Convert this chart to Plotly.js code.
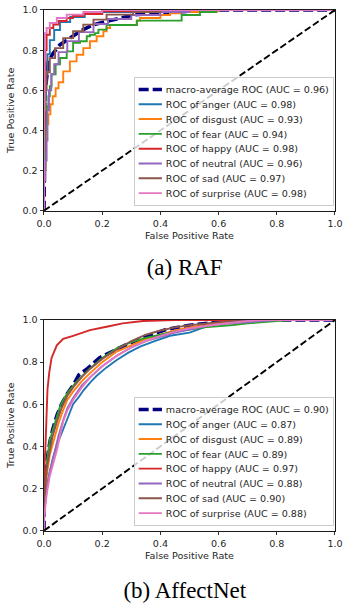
<!DOCTYPE html>
<html>
<head>
<meta charset="utf-8">
<script src="https://cdn.plot.ly/plotly-3.0.1.min.js"></script>
<style>
html,body{margin:0;padding:0;background:#fff;overflow:hidden;width:343px;height:603px}
#wrap{width:343px;height:603px;overflow:hidden;position:relative}
#chart{width:442px;height:777px;transform:scale(0.776018);transform-origin:0 0}
</style>
</head>
<body>
<div id="wrap"><div id="chart"></div></div>
<script>
// ---------- data ----------
const CLASSES = ['anger', 'disgust', 'fear', 'happy', 'neutral', 'sad', 'surprise'];
const COLORS = ['#1f77b4', '#ff7f0e', '#2ca02c', '#d62728', '#9467bd', '#8c564b', '#e377c2'];
const RAF_AUC = [0.98, 0.93, 0.94, 0.98, 0.96, 0.97, 0.98];
const AFF_AUC = [0.87, 0.89, 0.89, 0.97, 0.88, 0.90, 0.88];
const RAF_MACRO_AUC = 0.96;
const AFF_MACRO_AUC = 0.90;
const DIAG_X = [0, 1];
const DIAG_Y = [0, 1];
const CAPTIONS = ['(a) RAF', '(b) AffectNet'];

// RAF
const RAF_MACRO_FPR = [0, 0, 0.003, 0.009, 0.015, 0.032, 0.055, 0.089, 0.124, 0.17, 0.215, 0.306, 0.4, 0.5, 0.6, 1];
const RAF_MACRO_TPR = [0, 0.45, 0.58, 0.66, 0.744, 0.786, 0.827, 0.86, 0.894, 0.927, 0.944, 0.975, 0.987, 0.995, 1, 1];
const RAF_ANGER_FPR = [0, 0, 0.003, 0.007, 0.012, 0.02, 0.035, 0.055, 0.09, 0.14, 0.2, 0.3, 0.45, 1];
const RAF_ANGER_TPR = [0, 0.35, 0.55, 0.68, 0.78, 0.85, 0.9, 0.94, 0.965, 0.98, 0.99, 0.995, 1, 1];
const RAF_DISGUST_FPR = [0, 0, 0.005, 0.009, 0.015, 0.022, 0.03, 0.04, 0.05, 0.066, 0.089, 0.112, 0.135, 0.158, 0.181, 0.204, 0.215, 0.227, 0.319, 0.33, 0.4, 0.433, 0.467, 0.54, 0.6, 1];
const RAF_DISGUST_TPR = [0, 0.2, 0.35, 0.43, 0.48, 0.53, 0.57, 0.61, 0.64, 0.694, 0.744, 0.777, 0.81, 0.844, 0.869, 0.894, 0.91, 0.925, 0.947, 0.96, 0.975, 0.983, 0.99, 0.995, 1, 1];
const RAF_FEAR_FPR = [0, 0, 0.005, 0.01, 0.015, 0.02, 0.026, 0.04, 0.055, 0.078, 0.1, 0.124, 0.147, 0.158, 0.175, 0.187, 0.215, 0.319, 0.473, 0.536, 0.593, 1];
const RAF_FEAR_TPR = [0, 0.2, 0.4, 0.52, 0.57, 0.62, 0.68, 0.73, 0.761, 0.794, 0.836, 0.844, 0.869, 0.877, 0.885, 0.902, 0.925, 0.947, 0.975, 0.99, 1, 1];
const RAF_HAPPY_FPR = [0, 0, 0.002, 0.005, 0.009, 0.02, 0.032, 0.05, 0.078, 0.1, 0.135, 0.2, 0.3, 1];
const RAF_HAPPY_TPR = [0, 0.4, 0.65, 0.8, 0.877, 0.91, 0.927, 0.945, 0.96, 0.97, 0.98, 0.993, 1, 1];
const RAF_NEUTRAL_FPR = [0, 0, 0.005, 0.009, 0.012, 0.017, 0.025, 0.035, 0.05, 0.08, 0.12, 0.17, 0.22, 0.3, 0.4, 0.5, 1];
const RAF_NEUTRAL_TPR = [0, 0.15, 0.25, 0.35, 0.5, 0.6, 0.68, 0.73, 0.79, 0.845, 0.89, 0.93, 0.955, 0.975, 0.99, 1, 1];
const RAF_SAD_FPR = [0, 0, 0.002, 0.005, 0.009, 0.02, 0.038, 0.066, 0.1, 0.135, 0.17, 0.215, 0.306, 0.4, 1];
const RAF_SAD_TPR = [0, 0.3, 0.45, 0.6, 0.69, 0.76, 0.81, 0.86, 0.894, 0.927, 0.952, 0.977, 0.99, 1, 1];
const RAF_SURPRISE_FPR = [0, 0, 0.002, 0.003, 0.009, 0.02, 0.044, 0.078, 0.135, 0.2, 1];
const RAF_SURPRISE_TPR = [0, 0.5, 0.75, 0.885, 0.91, 0.935, 0.96, 0.977, 0.99, 1, 1];

// AffectNet
const AFF_MACRO_FPR = [0, 0, 0.005, 0.01, 0.02, 0.03, 0.045, 0.06, 0.08, 0.1, 0.12, 0.15, 0.19, 0.22, 0.27, 0.33, 0.42, 0.5, 0.6, 0.7, 1];
const AFF_MACRO_TPR = [0, 0.1, 0.25, 0.33, 0.42, 0.48, 0.55, 0.6, 0.65, 0.69, 0.74, 0.77, 0.82, 0.84, 0.875, 0.91, 0.955, 0.975, 0.99, 1, 1];
const AFF_ANGER_FPR = [0, 0, 0.005, 0.015, 0.03, 0.045, 0.06, 0.072, 0.085, 0.1, 0.12, 0.135, 0.16, 0.181, 0.215, 0.25, 0.29, 0.33, 0.38, 0.433, 0.5, 0.55, 0.6, 0.7, 0.75, 1];
const AFF_ANGER_TPR = [0, 0.06, 0.15, 0.25, 0.34, 0.41, 0.46, 0.5, 0.55, 0.6, 0.635, 0.665, 0.705, 0.735, 0.775, 0.81, 0.845, 0.873, 0.9, 0.925, 0.94, 0.965, 0.985, 0.997, 1, 1];
const AFF_DISGUST_FPR = [0, 0, 0.005, 0.01, 0.02, 0.035, 0.05, 0.065, 0.08, 0.1, 0.13, 0.16, 0.2, 0.25, 0.3, 0.35, 0.4, 0.45, 0.5, 0.6, 0.7, 0.8, 1];
const AFF_DISGUST_TPR = [0, 0.1, 0.2, 0.27, 0.36, 0.44, 0.51, 0.57, 0.62, 0.66, 0.71, 0.75, 0.8, 0.85, 0.88, 0.91, 0.93, 0.95, 0.965, 0.985, 0.995, 1, 1];
const AFF_FEAR_FPR = [0, 0, 0.005, 0.01, 0.02, 0.038, 0.055, 0.07, 0.084, 0.112, 0.135, 0.158, 0.2, 0.25, 0.3, 0.35, 0.4, 0.45, 0.5, 0.55, 0.65, 0.7, 0.8, 0.85, 1];
const AFF_FEAR_TPR = [0, 0.12, 0.25, 0.33, 0.43, 0.51, 0.59, 0.63, 0.66, 0.707, 0.74, 0.77, 0.82, 0.865, 0.895, 0.915, 0.93, 0.945, 0.955, 0.965, 0.976, 0.984, 0.995, 1, 1];
const AFF_HAPPY_FPR = [0, 0, 0.002, 0.005, 0.008, 0.012, 0.018, 0.026, 0.044, 0.066, 0.1, 0.158, 0.215, 0.27, 0.34, 0.45, 1];
const AFF_HAPPY_TPR = [0, 0.25, 0.32, 0.4, 0.55, 0.67, 0.75, 0.82, 0.88, 0.91, 0.925, 0.952, 0.968, 0.984, 0.995, 1, 1];
const AFF_NEUTRAL_FPR = [0, 0, 0.005, 0.01, 0.02, 0.035, 0.05, 0.065, 0.08, 0.1, 0.13, 0.16, 0.2, 0.25, 0.3, 0.35, 0.4, 0.45, 0.5, 0.55, 0.6, 0.7, 0.8, 1];
const AFF_NEUTRAL_TPR = [0, 0.06, 0.14, 0.2, 0.28, 0.37, 0.45, 0.52, 0.58, 0.63, 0.69, 0.73, 0.78, 0.83, 0.87, 0.9, 0.92, 0.94, 0.955, 0.97, 0.98, 0.99, 1, 1];
const AFF_SAD_FPR = [0, 0, 0.005, 0.01, 0.02, 0.03, 0.045, 0.06, 0.08, 0.1, 0.13, 0.16, 0.2, 0.25, 0.3, 0.35, 0.4, 0.45, 0.5, 0.6, 0.7, 1];
const AFF_SAD_TPR = [0, 0.1, 0.22, 0.3, 0.38, 0.45, 0.52, 0.58, 0.64, 0.68, 0.73, 0.77, 0.815, 0.86, 0.9, 0.93, 0.95, 0.965, 0.975, 0.99, 1, 1];
const AFF_SURPRISE_FPR = [0, 0, 0.005, 0.01, 0.02, 0.03, 0.044, 0.055, 0.066, 0.08, 0.1, 0.13, 0.16, 0.2, 0.25, 0.3, 0.35, 0.4, 0.45, 0.5, 0.6, 0.7, 0.75, 1];
const AFF_SURPRISE_TPR = [0, 0.05, 0.12, 0.18, 0.26, 0.31, 0.38, 0.45, 0.52, 0.57, 0.62, 0.68, 0.73, 0.78, 0.83, 0.87, 0.9, 0.925, 0.945, 0.96, 0.98, 0.995, 1, 1];

// ---------- build ----------
const K = 442 / 343; // internal scale (page is rendered larger then scaled down)
const RAF_FPR = [RAF_ANGER_FPR, RAF_DISGUST_FPR, RAF_FEAR_FPR, RAF_HAPPY_FPR, RAF_NEUTRAL_FPR, RAF_SAD_FPR, RAF_SURPRISE_FPR];
const RAF_TPR = [RAF_ANGER_TPR, RAF_DISGUST_TPR, RAF_FEAR_TPR, RAF_HAPPY_TPR, RAF_NEUTRAL_TPR, RAF_SAD_TPR, RAF_SURPRISE_TPR];
const AFF_FPR = [AFF_ANGER_FPR, AFF_DISGUST_FPR, AFF_FEAR_FPR, AFF_HAPPY_FPR, AFF_NEUTRAL_FPR, AFF_SAD_FPR, AFF_SURPRISE_FPR];
const AFF_TPR = [AFF_ANGER_TPR, AFF_DISGUST_TPR, AFF_FEAR_TPR, AFF_HAPPY_TPR, AFF_NEUTRAL_TPR, AFF_SAD_TPR, AFF_SURPRISE_TPR];

const LW = 1.9 * K;
function panel(xa, ya, leg, macroF, macroT, macroAuc, fprs, tprs, aucs, shape) {
  const out = [];
  out.push({
    type: 'scatter', mode: 'lines', x: macroF, y: macroT, xaxis: xa, yaxis: ya, legend: leg,
    name: 'macro-average ROC (AUC = ' + macroAuc.toFixed(2) + ')',
    line: {color: '#000080', width: 3.6 * K, dash: (10 * K) + 'px,' + (4 * K) + 'px'},
    hoverinfo: 'skip'
  });
  for (let i = 0; i < CLASSES.length; i++) {
    out.push({
      type: 'scatter', mode: 'lines', x: fprs[i], y: tprs[i], xaxis: xa, yaxis: ya, legend: leg,
      name: 'ROC of ' + CLASSES[i] + ' (AUC = ' + aucs[i].toFixed(2) + ')',
      line: {color: COLORS[i], width: LW, shape: shape},
      hoverinfo: 'skip'
    });
  }
  out.push({
    type: 'scatter', mode: 'lines', x: DIAG_X, y: DIAG_Y, xaxis: xa, yaxis: ya,
    showlegend: false,
    line: {color: '#000000', width: 1.9 * K, dash: (6.9 * K) + 'px,' + (3 * K) + 'px'},
    hoverinfo: 'skip'
  });
  return out;
}

const traces = [].concat(
  panel('x', 'y', 'legend', RAF_MACRO_FPR, RAF_MACRO_TPR, RAF_MACRO_AUC, RAF_FPR, RAF_TPR, RAF_AUC, 'hv'),
  panel('x2', 'y2', 'legend2', AFF_MACRO_FPR, AFF_MACRO_TPR, AFF_MACRO_AUC, AFF_FPR, AFF_TPR, AFF_AUC, 'linear')
);

const FS = 9.6 * K;
const TXT = '#262626';
function xax(anchor) {
  return {
    anchor: anchor, domain: [44 / 343, 335 / 343], range: [0, 1],
    tickvals: [0, 0.2, 0.4, 0.6, 0.8, 1.0], tickformat: '.1f',
    ticks: 'outside', ticklen: 3.5 * K, tickwidth: 0.8 * K, tickcolor: '#000',
    showline: true, mirror: true, linecolor: '#000', linewidth: 0.9 * K,
    showgrid: false, zeroline: false,
    tickfont: {family: 'DejaVu Sans', size: FS, color: TXT},
    title: {text: 'False Positive Rate', font: {family: 'DejaVu Sans', size: FS, color: TXT}, standoff: 5}
  };
}
function yax(anchor, dom) {
  return {
    anchor: anchor, domain: dom, range: [0, 1],
    tickvals: [0, 0.2, 0.4, 0.6, 0.8, 1.0], tickformat: '.1f',
    ticks: 'outside', ticklen: 3.5 * K, tickwidth: 0.8 * K, tickcolor: '#000',
    showline: true, mirror: true, linecolor: '#000', linewidth: 0.9 * K,
    showgrid: false, zeroline: false,
    tickfont: {family: 'DejaVu Sans', size: FS, color: TXT},
    title: {text: 'True Positive Rate', font: {family: 'DejaVu Sans', size: FS, color: TXT}, standoff: 7}
  };
}
function legendCfg(bottomPx) {
  return {
    x: 334 / 343, xanchor: 'right', y: 1 - bottomPx / 603, yanchor: 'bottom',
    bgcolor: 'rgba(255,255,255,0.8)', bordercolor: '#cccccc', borderwidth: 1.0 * K,
    font: {family: 'DejaVu Sans', size: FS, color: TXT}, traceorder: 'normal'
  };
}

const layout = {
  width: 442, height: 777,
  margin: {l: 0, r: 0, t: 0, b: 0},
  paper_bgcolor: '#ffffff', plot_bgcolor: '#ffffff',
  showlegend: true,
  xaxis: xax('y'),
  yaxis: yax('x', [1 - 210.7 / 603, 1 - 10 / 603]),
  xaxis2: xax('y2'),
  yaxis2: yax('x2', [1 - 530.7 / 603, 1 - 320 / 603]),
  legend: legendCfg(206),
  legend2: legendCfg(526),
  annotations: [
    {text: CAPTIONS[0], xref: 'paper', yref: 'paper', x: 185 / 343, y: 1 - 268 / 603,
     xanchor: 'center', yanchor: 'middle', showarrow: false,
     font: {family: 'Liberation Serif', size: 23 * K, color: '#000'}},
    {text: CAPTIONS[1], xref: 'paper', yref: 'paper', x: 185 / 343, y: 1 - 590 / 603,
     xanchor: 'center', yanchor: 'middle', showarrow: false,
     font: {family: 'Liberation Serif', size: 23 * K, color: '#000'}}
  ]
};

Plotly.newPlot('chart', traces, layout, {staticPlot: true, displayModeBar: false});
</script>
</body>
</html>
